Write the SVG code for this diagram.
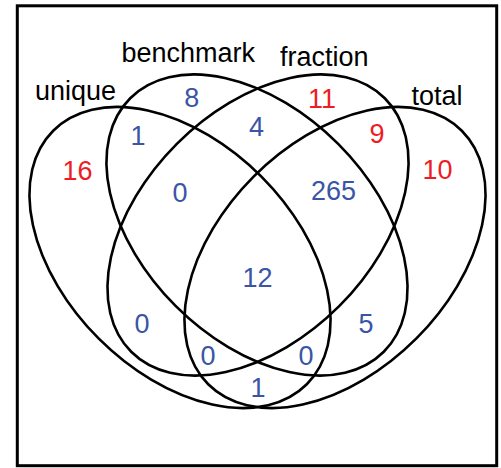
<svg xmlns="http://www.w3.org/2000/svg" width="501" height="468" viewBox="0 0 501 468">
<style>
.set{fill:none;stroke:#000;stroke-width:2.6}
.lab{font-family:"Liberation Sans",Arial,sans-serif;font-size:27px;fill:#000}
.n{font-family:"Liberation Sans",Arial,sans-serif;font-size:27px;text-anchor:middle}
.b{fill:#3A55A6}
.r{fill:#EE1C25}
</style>
<rect width="501" height="468" fill="#fff"/>
<rect x="17.3" y="5.8" width="479.4" height="459.9" fill="none" stroke="#000" stroke-width="3"/>
<g id="connectors"></g>
<g id="unique"><ellipse class="set" cx="180" cy="257.5" rx="179.3" ry="114.8" transform="rotate(45 180 257.5)"/><text class="lab" x="35" y="100">unique</text></g>
<g id="benchmark"><ellipse class="set" cx="257" cy="225" rx="179.3" ry="114.8" transform="rotate(45 257 225)"/><text class="lab" x="121.5" y="61.5">benchmark</text></g>
<g id="fraction"><ellipse class="set" cx="258" cy="225" rx="179.3" ry="114.8" transform="rotate(-45 258 225)"/><text class="lab" x="280" y="66">fraction</text></g>
<g id="total"><ellipse class="set" cx="335" cy="257.5" rx="179.3" ry="114.8" transform="rotate(-45 335 257.5)"/><text class="lab" x="411.5" y="105">total</text></g>
<g id="counts">
<text class="n r" x="77.5" y="180">16</text>
<text class="n b" x="138" y="145">1</text>
<text class="n b" x="191.7" y="106.7">8</text>
<text class="n b" x="180" y="201.7">0</text>
<text class="n b" x="256.5" y="136">4</text>
<text class="n r" x="322" y="108.3">11</text>
<text class="n r" x="377" y="143.3">9</text>
<text class="n r" x="437.5" y="179">10</text>
<text class="n b" x="333.5" y="200">265</text>
<text class="n b" x="257.5" y="286.7">12</text>
<text class="n b" x="142" y="333">0</text>
<text class="n b" x="366" y="333">5</text>
<text class="n b" x="208" y="365">0</text>
<text class="n b" x="306" y="365">0</text>
<text class="n b" x="258" y="396.7">1</text>
</g>
</svg>
